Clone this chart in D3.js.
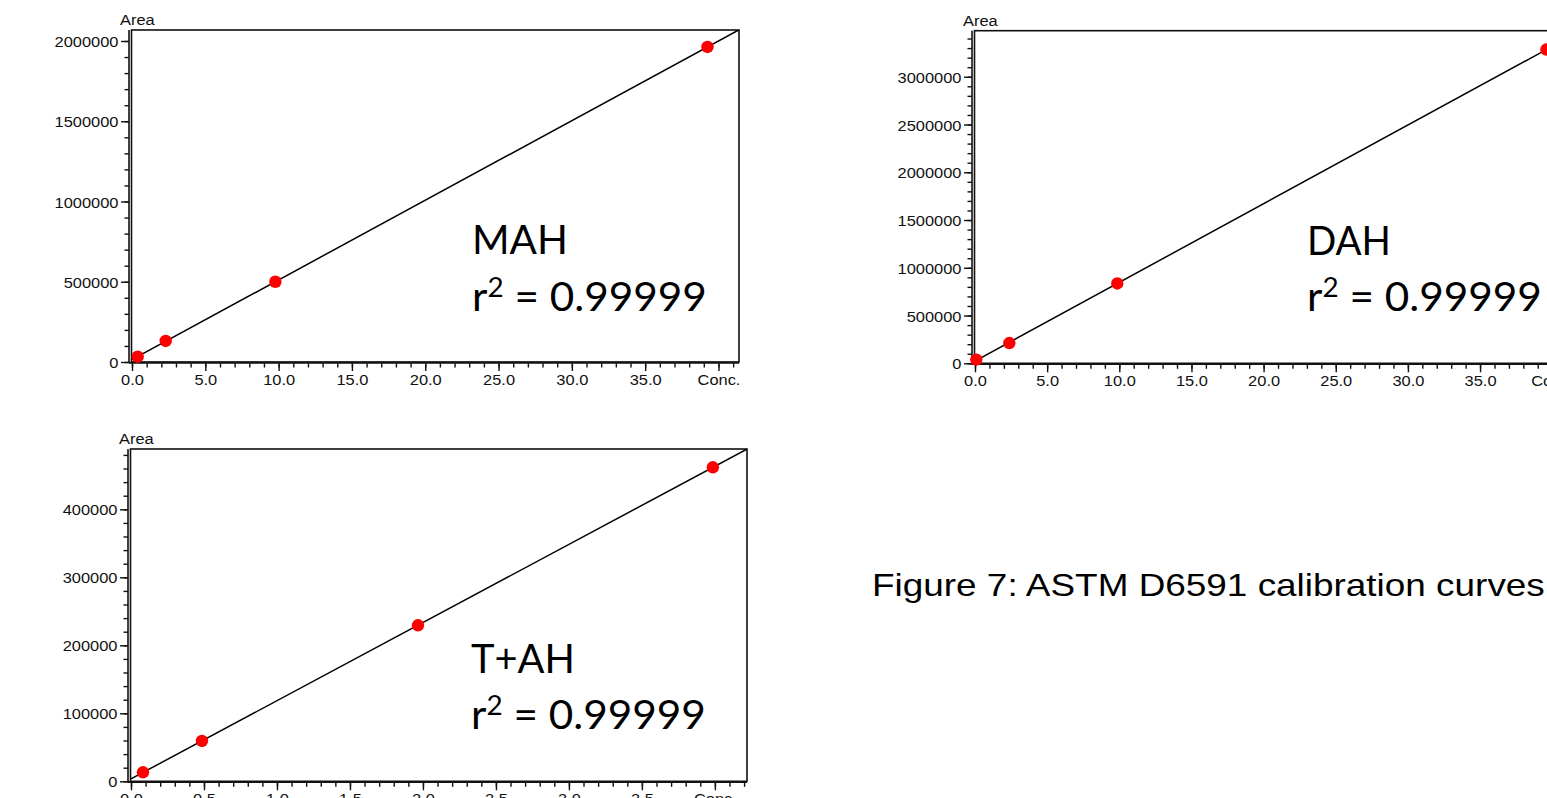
<!DOCTYPE html>
<html><head><meta charset="utf-8">
<script src="https://cdn.jsdelivr.net/npm/d3@7"></script>
<style>html,body{margin:0;padding:0;background:#fff;overflow:hidden}</style>
</head><body>
<svg id="c" width="1547" height="798"></svg>
<script>
// ---- data ----
const mahConc = [0.39, 2.30, 9.78, 39.25];
const mahArea = [33000, 131000, 500000, 1963000];
const dahConc = [0.09, 2.38, 9.86, 39.6];
const dahArea = [38700, 212000, 836000, 3285000];
const tahConc = [0.082, 0.486, 1.966, 3.986];
const tahArea = [13200, 59300, 229400, 461800];

const mahYTicks = [0, 500000, 1000000, 1500000, 2000000];
const dahYTicks = [0, 500000, 1000000, 1500000, 2000000, 2500000, 3000000];
const tahYTicks = [0, 100000, 200000, 300000, 400000];
const concXTickValues = [0, 5, 10, 15, 20, 25, 30, 35, 40];
const concXTickLabels = ["0.0", "5.0", "10.0", "15.0", "20.0", "25.0", "30.0", "35.0", "Conc."];
const tahXTickValues = [0, 0.5, 1, 1.5, 2, 2.5, 3, 3.5, 4];
const tahXTickLabels = ["0.0", "0.5", "1.0", "1.5", "2.0", "2.5", "3.0", "3.5", "Conc."];

const names = ["MAH", "DAH", "T+AH"];
const r2Text = ["0.99999", "0.99999", "0.99999"];
const yAxisTitle = "Area";
const caption = "Figure 7: ASTM D6591 calibration curves";

// ---- layout ----
const panels = [
  {conc: mahConc, area: mahArea, xMax: 41.4, yMax: 2068500, xVals: concXTickValues, xLabs: concXTickLabels, xMinor: 1, yTicks: mahYTicks, yMinor: 100000,
   x0: 132, x1: 739, yB: 362, yT: 30, name: names[0], r2: r2Text[0], tx: 472, nameBase: 254, nameW: 96, r2Base: 311, r2W: 235},
  {conc: dahConc, area: dahArea, xMax: 41.4, yMax: 3482000, xVals: concXTickValues, xLabs: concXTickLabels, xMinor: 1, yTicks: dahYTicks, yMinor: 100000,
   x0: 975, x1: 1572.4, yB: 363.3, yT: 30.7, name: names[1], r2: r2Text[1], tx: 1307, nameBase: 255, nameW: 84, r2Base: 311, r2W: 235},
  {conc: tahConc, area: tahArea, xMax: 4.22, yMax: 488700, xVals: tahXTickValues, xLabs: tahXTickLabels, xMinor: 0.1, yTicks: tahYTicks, yMinor: 20000,
   x0: 131, x1: 747, yB: 781.3, yT: 449, name: names[2], r2: r2Text[2], tx: 471, nameBase: 673, nameW: 104, r2Base: 729, r2W: 235}
];

const svg = d3.select("#c");
const SX = 1.06;
const smallFont = "'Liberation Sans', Arial, sans-serif";

panels.forEach((p, i) => {
  const x = d3.scaleLinear().domain([0, p.xMax]).range([p.x0, p.x1]);
  const y = d3.scaleLinear().domain([0, p.yMax]).range([p.yB, p.yT]);
  const g = svg.append("g");

  const cid = "clip" + i;
  svg.append("clipPath").attr("id", cid).append("rect")
    .attr("x", p.x0).attr("y", p.yT).attr("width", p.x1 - p.x0).attr("height", p.yB - p.yT);

  // box
  g.append("rect").attr("x", p.x0 - 0.5).attr("y", p.yT).attr("width", p.x1 - p.x0 + 0.5).attr("height", p.yB - p.yT)
    .attr("fill", "none").attr("stroke", "#111").attr("stroke-width", 1.6);

  const axX = p.x0 - 3;
  g.append("line").attr("x1", axX).attr("x2", axX).attr("y1", p.yT).attr("y2", p.yB + 1)
    .attr("stroke", "#111").attr("stroke-width", 1.6);
  g.append("line").attr("x1", axX).attr("x2", p.x1).attr("y1", p.yB + 0.8).attr("y2", p.yB + 0.8)
    .attr("stroke", "#111").attr("stroke-width", 2);

  // y minor ticks
  const yMinorVals = d3.range(0, p.yMax + 1, p.yMinor);
  g.append("g").attr("transform", `translate(${axX},0)`)
    .call(d3.axisLeft(y).tickValues(yMinorVals).tickSize(4.5).tickSizeOuter(0).tickFormat(""))
    .call(a => a.select(".domain").remove())
    .call(a => a.selectAll("line").attr("stroke", "#111").attr("stroke-width", 1.4));
  // y major ticks
  g.append("g").attr("transform", `translate(${axX},0)`)
    .call(d3.axisLeft(y).tickValues(p.yTicks).tickSize(8).tickSizeOuter(0).tickFormat(d3.format("d")))
    .call(a => a.select(".domain").remove())
    .call(a => a.selectAll("line").attr("stroke", "#111").attr("stroke-width", 1.4))
    .call(a => a.selectAll("text").attr("x", -10.5 / SX).attr("dy", "0.36em")
      .attr("transform", `scale(${SX},1)`).attr("fill", "#111")
      .style("font-family", smallFont).style("font-size", "15.5px"));

  // x minor ticks
  const xMinorVals = d3.range(0, p.xMax + 1e-9, p.xMinor);
  g.append("g").attr("transform", `translate(0,${p.yB + 1.5})`)
    .call(d3.axisBottom(x).tickValues(xMinorVals).tickSize(4).tickSizeOuter(0).tickFormat(""))
    .call(a => a.select(".domain").remove())
    .call(a => a.selectAll("line").attr("stroke", "#111").attr("stroke-width", 1.4));
  // x major ticks
  g.append("g").attr("transform", `translate(0,${p.yB + 1.5})`)
    .call(d3.axisBottom(x).tickValues(p.xVals).tickSize(7.5).tickSizeOuter(0)
      .tickFormat((d, k) => p.xLabs[k]))
    .call(a => a.select(".domain").remove())
    .call(a => a.selectAll("line").attr("stroke", "#111").attr("stroke-width", 1.4))
    .call(a => a.selectAll("text").attr("y", 21.5).attr("dy", 0)
      .attr("transform", `scale(${SX},1)`).attr("fill", "#111")
      .style("font-family", smallFont).style("font-size", "15.5px"));

  // axis title
  g.append("text").attr("x", (axX - 9)).attr("y", p.yT - 4.5).text(yAxisTitle)
    .attr("transform", `translate(${axX - 9},0) scale(${SX},1) translate(${-(axX - 9)},0)`)
    .attr("fill", "#111").style("font-family", smallFont).style("font-size", "15.5px");

  // regression line
  const mx = d3.mean(p.conc), my = d3.mean(p.area);
  const slope = d3.sum(p.conc, (c, k) => (c - mx) * (p.area[k] - my)) / d3.sum(p.conc, c => (c - mx) * (c - mx));
  const icpt = my - slope * mx;
  const xs = [Math.max(0, -icpt / slope), p.xMax * 1.05];
  g.append("path").attr("clip-path", `url(#${cid})`)
    .datum(xs)
    .attr("d", d3.line().x(c => x(c)).y(c => y(icpt + slope * c)))
    .attr("fill", "none").attr("stroke", "#000").attr("stroke-width", 1.5);

  // points
  g.selectAll("circle.pt").data(p.conc).join("circle").attr("class", "pt")
    .attr("cx", c => x(c)).attr("cy", (c, k) => y(p.area[k])).attr("r", 6.2)
    .attr("fill", "#ff0000");

  // annotation
  const bigFont = "Lato, 'Open Sans', sans-serif";
  const nm = g.append("text").attr("x", 0).attr("y", 0).attr("fill", "#000")
    .style("font-family", bigFont).style("font-size", "41px").text(p.name);
  const w1 = nm.node().getBBox().width;
  nm.attr("transform", `translate(${p.tx},${p.nameBase}) scale(${p.nameW / w1},1)`);

  const r2 = g.append("text").attr("x", 0).attr("y", 0).attr("fill", "#000")
    .style("font-family", bigFont).style("font-size", "41px");
  r2.append("tspan").text("r");
  r2.append("tspan").text("2").style("font-size", "27px").attr("dy", "-14");
  r2.append("tspan").text(" = " + p.r2).attr("dy", "14");
  const w2 = r2.node().getBBox().width;
  r2.attr("transform", `translate(${p.tx},${p.r2Base}) scale(${p.r2W / w2},1)`);
});

// caption
const cap = svg.append("text").attr("x", 0).attr("y", 0).attr("fill", "#000")
  .style("font-family", smallFont).style("font-size", "31px").text(caption);
const cw = cap.node().getBBox().width;
cap.attr("transform", `translate(872,596) scale(${673 / cw},1)`);
</script>
</body></html>
